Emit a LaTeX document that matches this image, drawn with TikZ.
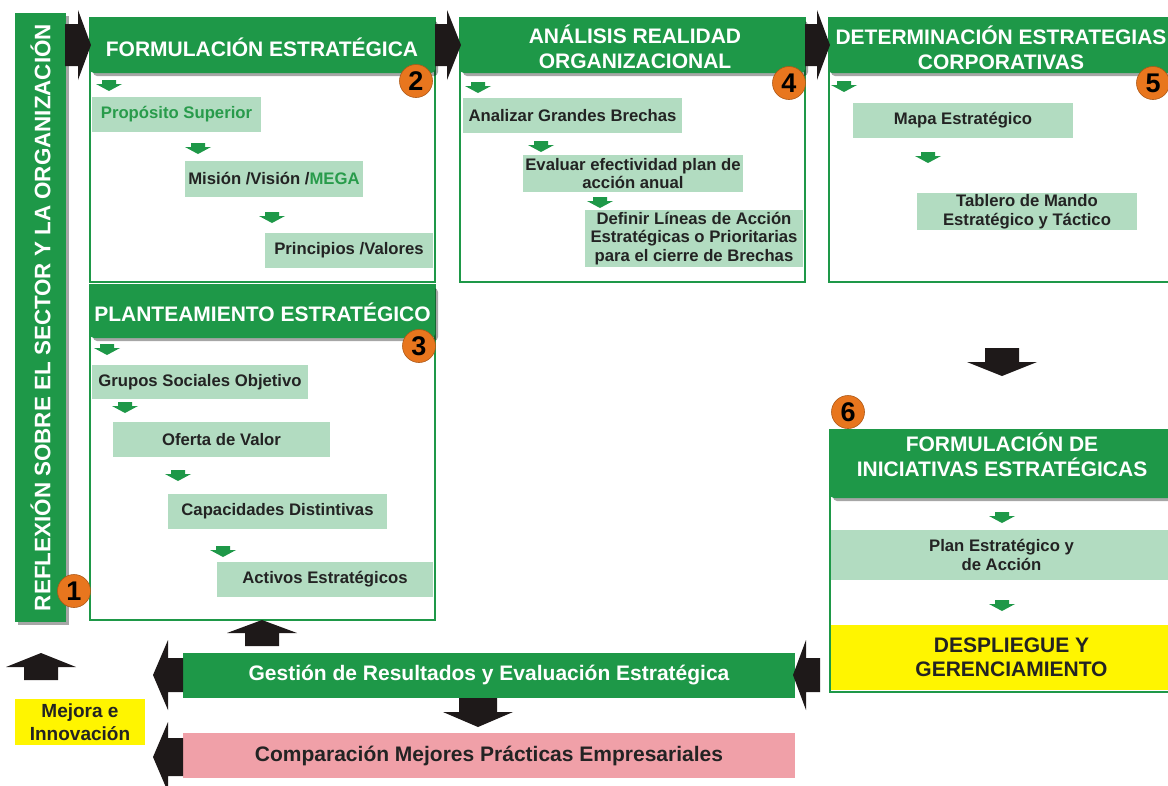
\documentclass[tikz,border=0pt]{standalone}
\usepackage{fontspec}
\setmainfont{Liberation Sans}
\usetikzlibrary{shadows}
\definecolor{hgreen}{RGB}{30,152,72}
\definecolor{tgreen}{RGB}{40,155,75}
\definecolor{lgreen}{RGB}{178,220,193}
\definecolor{ornge}{RGB}{232,118,30}
\definecolor{yel}{RGB}{255,245,0}
\definecolor{pnk}{RGB}{240,160,168}
\definecolor{blkc}{RGB}{30,25,25}
\definecolor{tdark}{RGB}{35,35,35}
\newcommand\bx[7]{\node[#1,minimum width={(#5)-(#3)},minimum height={(#6)-(#4)}] (#2) at ({((#3)+(#5))/2},{((#4)+(#6))/2}) {#7};}
\newcommand\garr[2]{\fill[gar] ({#1-7},#2) -- ({#1+7},#2) -- ({#1+7},{#2+4}) -- ({#1+13},{#2+4}) -- (#1,{#2+11}) -- ({#1-13},{#2+4}) -- ({#1-7},{#2+4}) -- cycle;}
\newcommand\arrH[6]{\fill[blk] (#1,{#4-#5}) -- (#2,{#4-#5}) -- (#2,{#4-#6}) -- (#3,#4) -- (#2,{#4+#6}) -- (#2,{#4+#5}) -- (#1,{#4+#5}) -- cycle;}
\newcommand\arrV[6]{\fill[blk] ({#4-#5},#1) -- ({#4-#5},#2) -- ({#4-#6},#2) -- (#4,#3) -- ({#4+#6},#2) -- ({#4+#5},#2) -- ({#4+#5},#1) -- cycle;}
\begin{document}
\begin{tikzpicture}[x=1pt,y=-1pt,
  hdr/.style={fill=hgreen,rounded corners=4pt,inner sep=0pt,drop shadow={shadow xshift=3pt,shadow yshift=-3pt,opacity=0.35,fill=black}},
  ttl/.style={text=white,font=\bfseries\fontsize{21}{25}\selectfont,align=center,inner sep=0pt},
  frm/.style={draw=hgreen,line width=2.5pt},
  item/.style={fill=lgreen,text=tdark,font=\bfseries\fontsize{16.7}{18.5}\selectfont,align=center,inner sep=0pt},
  num/.style={circle,fill=ornge,draw=ornge!75!black,line width=0.6pt,text=black,font=\bfseries\fontsize{27}{27}\selectfont,inner sep=0pt,minimum size=33pt},
  blk/.style={fill=blkc},
  gar/.style={fill=hgreen},
  gbar/.style={fill=hgreen,text=white,font=\bfseries\fontsize{21}{25}\selectfont,inner sep=0pt},
  pbar/.style={fill=pnk,text=tdark,font=\bfseries\fontsize{21}{25}\selectfont,inner sep=0pt},
  ybox/.style={fill=yel,text=tdark,font=\bfseries\fontsize{19}{23}\selectfont,align=center,inner sep=0pt},
  dbox/.style={fill=yel,text=tdark,font=\bfseries\fontsize{21}{23.5}\selectfont,align=center,inner sep=0pt},
  lbar/.style={fill=hgreen,text=white,font=\bfseries\fontsize{22.4}{26}\selectfont,inner sep=0pt,rotate=90,drop shadow={shadow xshift=3pt,shadow yshift=-3pt,opacity=0.35,fill=black}}]
\useasboundingbox (0,0) rectangle (1168,785);
\clip (0,0) rectangle (1168,785);

% left bar
\node[lbar,minimum width=609pt,minimum height=51pt] (rb) at (40.5,317.5) {REFLEXIÓN SOBRE EL SECTOR Y LA ORGANIZACIÓN};

% items box 2
\bx{item}{ps}{92}{97}{261}{132}{\textcolor{tgreen}{Propósito Superior}}
\bx{item}{mv}{185}{161}{363}{197}{Misión /Visión /\textcolor{tgreen}{MEGA}}
\bx{item}{pv}{265}{233}{433}{268}{Principios /Valores}
% items box 3
\bx{item}{gs}{92}{365}{308}{399}{Grupos Sociales Objetivo}
\bx{item}{ov}{113}{422}{330}{457}{Oferta de Valor}
\bx{item}{cd}{168}{494}{387}{529}{Capacidades Distintivas}
\bx{item}{ae}{217}{562}{433}{597}{Activos Estratégicos}
% items box 4
\bx{item}{ag}{463}{98}{682}{133}{Analizar Grandes Brechas}
\bx{item}{ee}{523}{155}{743}{192}{Evaluar efectividad plan de\\acción anual}
\bx{item}{dl}{585}{210}{803}{267}{Definir Líneas de Acción\\Estratégicas o Prioritarias\\para el cierre de Brechas}
% items box 5
\bx{item}{me}{853}{103}{1073}{138}{Mapa Estratégico}
\bx{item}{tm}{917}{193}{1137}{230}{Tablero de Mando\\Estratégico y Táctico}
% items box 6
\bx{item}{pe}{831}{530}{1172}{580}{Plan Estratégico y\\de Acción}
\bx{dbox}{dg}{831}{625}{1192}{690}{DESPLIEGUE Y\\GERENCIAMIENTO}

% frames
\draw[frm] (90,18) rectangle (435,282);
\draw[frm] (90,285) rectangle (435,620);
\draw[frm] (460,18) rectangle (805,282);
\draw[frm] (829,18) rectangle (1185,282);
\draw[frm] (830,430) rectangle (1195,692);

% headers
\bx{hdr}{h2}{90}{18}{435}{73}{}
\node[ttl] (t2) at (262,47.5) {FORMULACIÓN ESTRATÉGICA};
\bx{hdr}{h3}{90}{285}{435}{338}{}
\node[ttl] (t3) at (262.5,312) {PLANTEAMIENTO ESTRATÉGICO};
\bx{hdr}{h4}{460}{18}{805}{73}{}
\node[ttl] (t4) at (635,47) {ANÁLISIS REALIDAD\\ORGANIZACIONAL};
\bx{hdr}{h5}{828}{18}{1185}{73}{}
\node[ttl] (t5) at (1001,48) {DETERMINACIÓN ESTRATEGIAS\\CORPORATIVAS};
\bx{hdr}{h6}{830}{430}{1195}{498}{}
\node[ttl] (t6) at (1002,455) {FORMULACIÓN DE\\INICIATIVAS ESTRATÉGICAS};

% small green arrows
\garr{109}{80}\garr{198}{143}\garr{272}{212}
\garr{107}{344}\garr{125}{402}\garr{178}{470}\garr{223}{546}
\garr{478}{82}\garr{541}{141}\garr{600}{197}
\garr{844}{81}\garr{928}{152}
\garr{1002}{512}\garr{1002}{600}

% bottom bars
\bx{gbar}{gr}{183}{653}{795}{698}{Gestión de Resultados y Evaluación Estratégica}
\bx{pbar}{cm}{183}{733}{795}{778}{Comparación Mejores Prácticas Empresariales}
\bx{ybox}{mi}{15}{699}{145}{745}{Mejora e\\Innovación}

% black block arrows
\arrH{65}{78}{91}{45}{21}{35}
\arrH{435}{447}{461}{45}{21}{35}
\arrH{805}{817}{830}{45}{21}{35}
\arrV{348}{362}{376}{1002}{17}{35}
\arrH{820}{806}{793}{675}{17}{35}
\arrH{183}{168}{153}{675}{17}{35}
\arrH{183}{168}{153}{757}{19}{35}
\arrV{646}{633}{620}{262}{17}{35}
\arrV{680}{667}{653}{41}{17}{35}
\arrV{698}{712}{727}{478}{19}{35}

% numbers
\node[num] (n1) at (74,591) {1};
\node[num] (n2) at (416,81) {2};
\node[num] (n3) at (419,346) {3};
\node[num] (n4) at (789,83) {4};
\node[num] (n5) at (1153,83) {5};
\node[num] (n6) at (848,412) {6};
\end{tikzpicture}
\end{document}
